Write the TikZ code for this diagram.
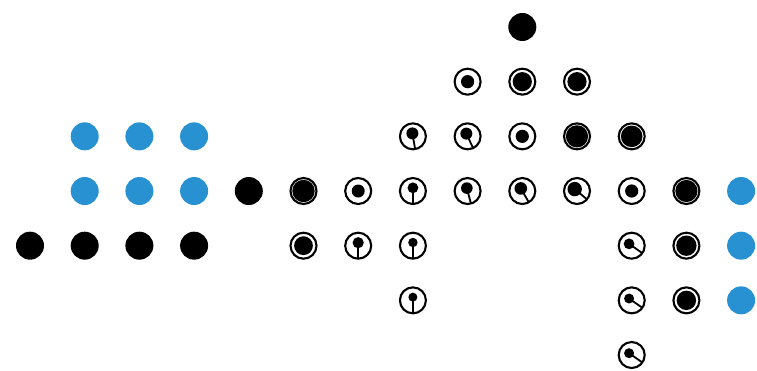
\documentclass[tikz,border=0pt]{standalone}
\usetikzlibrary{calc}
\definecolor{dotblue}{HTML}{2791D1}
\tikzset{
  ring/.style={circle,draw=black,line width=2.1pt,minimum size=26pt,inner sep=0pt,outer sep=0pt},
  soliddot/.style={circle,fill=black,minimum size=28pt,inner sep=0pt},
  bluedot/.style={circle,fill=dotblue,minimum size=28pt,inner sep=0pt},
  tail/.style={line width=1.8pt,line cap=butt},
}
% column, row, dot radius, offset, tail angle (screen, clockwise from right)
\newcommand\tailglyph[5]{%
  \node[ring] (n-#1-#2) at ({30+54.7*#1},{27+54.67*#2}) {};
  \coordinate (d-#1-#2) at ($(n-#1-#2.center)+({#5+180}:#4)$);
  \coordinate (e-#1-#2) at ($(n-#1-#2.center)+(#5:13)$);
  \fill (d-#1-#2) circle (#3);
  \draw[tail] (d-#1-#2) -- (e-#1-#2);
}
\newcommand\coreglyph[3]{%
  \node[ring] (n-#1-#2) at ({30+54.7*#1},{27+54.67*#2}) {};
  \fill (n-#1-#2.center) circle (#3);
}
\newcommand\solidglyph[3]{%
  \node[#3] (n-#1-#2) at ({30+54.7*#1},{27+54.67*#2}) {};
}
\begin{document}
\begin{tikzpicture}[x=1pt,y=-1pt]
\useasboundingbox (0,0) rectangle (757,370);
% row 0
\solidglyph{9}{0}{soliddot}
% row 1
\coreglyph{8}{1}{6.6}
\coreglyph{9}{1}{9.6}
\coreglyph{10}{1}{9.6}
% row 2
\solidglyph{1}{2}{bluedot}
\solidglyph{2}{2}{bluedot}
\solidglyph{3}{2}{bluedot}
\tailglyph{7}{2}{6}{3}{80}
\tailglyph{8}{2}{6}{3}{65}
\coreglyph{9}{2}{6.6}
\coreglyph{10}{2}{11.1}
\coreglyph{11}{2}{10.8}
% row 3
\solidglyph{1}{3}{bluedot}
\solidglyph{2}{3}{bluedot}
\solidglyph{3}{3}{bluedot}
\solidglyph{4}{3}{soliddot}
\coreglyph{5}{3}{11.2}
\coreglyph{6}{3}{6.5}
\tailglyph{7}{3}{5.4}{3.2}{90}
\tailglyph{8}{3}{5.8}{3}{75}
\tailglyph{9}{3}{6.3}{3}{60}
\tailglyph{10}{3}{7.2}{3}{40}
\coreglyph{11}{3}{6.6}
\coreglyph{12}{3}{11.1}
\solidglyph{13}{3}{bluedot}
% row 4
\solidglyph{0}{4}{soliddot}
\solidglyph{1}{4}{soliddot}
\solidglyph{2}{4}{soliddot}
\solidglyph{3}{4}{soliddot}
\coreglyph{5}{4}{9.4}
\tailglyph{6}{4}{5.6}{3}{90}
\tailglyph{7}{4}{4.7}{3.2}{90}
\tailglyph{11}{4}{5.4}{3.2}{35}
\coreglyph{12}{4}{10.2}
\solidglyph{13}{4}{bluedot}
% row 5
\tailglyph{7}{5}{4.5}{3.2}{90}
\tailglyph{11}{5}{5}{3.2}{35}
\coreglyph{12}{5}{9.7}
\solidglyph{13}{5}{bluedot}
% row 6
\tailglyph{11}{6}{5}{3.2}{35}
\end{tikzpicture}
\end{document}
